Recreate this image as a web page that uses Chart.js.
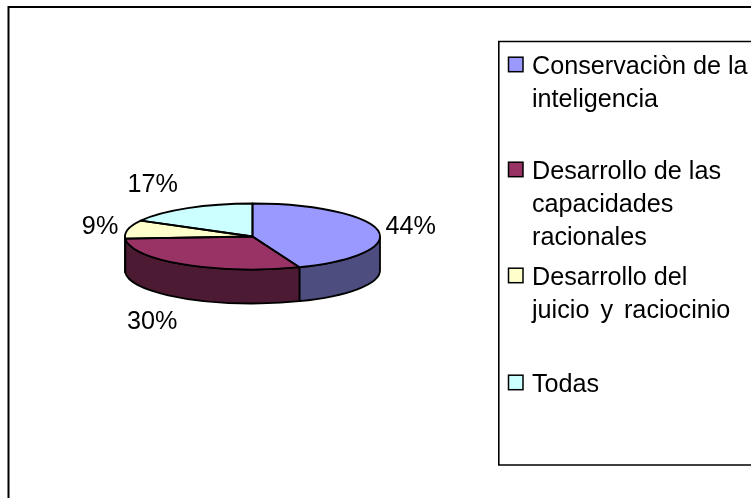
<!DOCTYPE html>
<html>
<head>
<meta charset="utf-8">
<style>
html,body{margin:0;padding:0;background:#fff;overflow:hidden}
canvas{display:block}
</style>
<script src="https://cdn.jsdelivr.net/npm/chart.js@4"></script>
</head>
<body>
<canvas id="c" width="751" height="498"></canvas>
<script>
const categories = ["Conservaciòn de la inteligencia", "Desarrollo de las capacidades racionales", "Desarrollo del juicio y raciocinio", "Todas"];
const legendLines = [["Conservaciòn de la", "inteligencia"], ["Desarrollo de las", "capacidades", "racionales"], ["Desarrollo del", "juicio y raciocinio"], ["Todas"]];
const values = [44, 30, 9, 17];
const topColors = ["#9999FF", "#993366", "#FFFFCC", "#CCFFFF"];
const wallColors = ["#4D4D80", "#4D1A33", "#808066", "#668080"];

const FONT = '25.2px "Liberation Sans", Arial, sans-serif';
const SQUASH = 33 / 127.5;
const DEPTH = 34;
const RADIUS = 127.5;
const LABEL_NUDGE = [[33, -3], [-32, 58], [-28, -2], [-35, -23]];
const LEGEND_BASELINE = [74, 179, 285, 392];
const LEGEND_LINE = 33;
const WIDE_SPACED_LINE = "juicio y raciocinio";

const pie3d = {
  id: 'pie3d',
  beforeDraw(chart) {
    const ctx = chart.ctx;
    ctx.save();
    ctx.strokeStyle = '#000';
    ctx.lineWidth = 2;
    ctx.beginPath();
    ctx.moveTo(8.5, 498); ctx.lineTo(8.5, 7); ctx.lineTo(751, 7);
    ctx.stroke();
    ctx.lineWidth = 1.6;
    ctx.beginPath();
    ctx.moveTo(751, 41.5); ctx.lineTo(498.8, 41.5); ctx.lineTo(498.8, 465); ctx.lineTo(751, 465);
    ctx.stroke();
    ctx.restore();
  },
  beforeDatasetsDraw(chart) {
    const ctx = chart.ctx;
    const arcs = chart.getDatasetMeta(0).data;
    const cx = arcs[0].x, cy = arcs[0].y, ry = RADIUS * SQUASH;
    ctx.save();
    ctx.strokeStyle = '#000';
    ctx.lineWidth = 1.8;
    ctx.lineJoin = 'round';
    // side wall
    arcs.forEach((arc, i) => {
      const a = Math.max(arc.startAngle, 0), b = Math.min(arc.endAngle, Math.PI);
      if (b <= a) return;
      ctx.beginPath();
      ctx.ellipse(cx, cy, RADIUS, ry, 0, a, b);
      ctx.ellipse(cx, cy + DEPTH, RADIUS, ry, 0, b, a, true);
      ctx.closePath();
      ctx.fillStyle = wallColors[i];
      ctx.fill();
      ctx.stroke();
    });
    // top face, filled by the library's arc elements under a flattening transform
    ctx.save();
    ctx.translate(cx, cy);
    ctx.scale(1, SQUASH);
    ctx.translate(-cx, -cy);
    arcs.forEach(arc => arc.draw(ctx));
    ctx.restore();
    // outlines kept at an even width
    arcs.forEach(arc => {
      ctx.beginPath();
      ctx.moveTo(cx, cy);
      ctx.ellipse(cx, cy, RADIUS, ry, 0, arc.startAngle, arc.endAngle);
      ctx.closePath();
      ctx.stroke();
    });
    ctx.restore();
    return false;
  },
  afterDraw(chart) {
    const ctx = chart.ctx;
    const arcs = chart.getDatasetMeta(0).data;
    const total = values.reduce((s, v) => s + v, 0);
    ctx.save();
    ctx.font = FONT;
    ctx.fillStyle = '#000';
    ctx.textAlign = 'center';
    ctx.textBaseline = 'middle';
    arcs.forEach((arc, i) => {
      const mid = (arc.startAngle + arc.endAngle) / 2;
      const x = arc.x + RADIUS * Math.cos(mid) + LABEL_NUDGE[i][0];
      const y = arc.y + RADIUS * SQUASH * Math.sin(mid) + LABEL_NUDGE[i][1];
      ctx.fillText(Math.round(values[i] / total * 100) + '%', x, y);
    });
    ctx.textAlign = 'left';
    ctx.textBaseline = 'alphabetic';
    legendLines.forEach((lines, i) => {
      const base = LEGEND_BASELINE[i];
      ctx.fillStyle = topColors[i];
      ctx.strokeStyle = '#000';
      ctx.lineWidth = 1.5;
      ctx.fillRect(508.5, base - 16.8, 14.5, 14.5);
      ctx.strokeRect(508.5, base - 16.8, 14.5, 14.5);
      ctx.fillStyle = '#000';
      lines.forEach((t, j) => {
        ctx.wordSpacing = t === WIDE_SPACED_LINE ? '4px' : '0px';
        ctx.fillText(t, 532, base + j * LEGEND_LINE);
      });
    });
    ctx.restore();
  }
};

new Chart(document.getElementById('c'), {
  type: 'pie',
  data: {
    labels: categories,
    datasets: [{ data: values, backgroundColor: topColors, borderWidth: 0, radius: RADIUS }]
  },
  options: {
    responsive: false,
    animation: false,
    layout: { padding: { left: 0, right: 246, top: 0, bottom: 25 } },
    plugins: { legend: { display: false }, tooltip: { enabled: false }, title: { display: false } }
  },
  plugins: [pie3d]
});
</script>
</body>
</html>
